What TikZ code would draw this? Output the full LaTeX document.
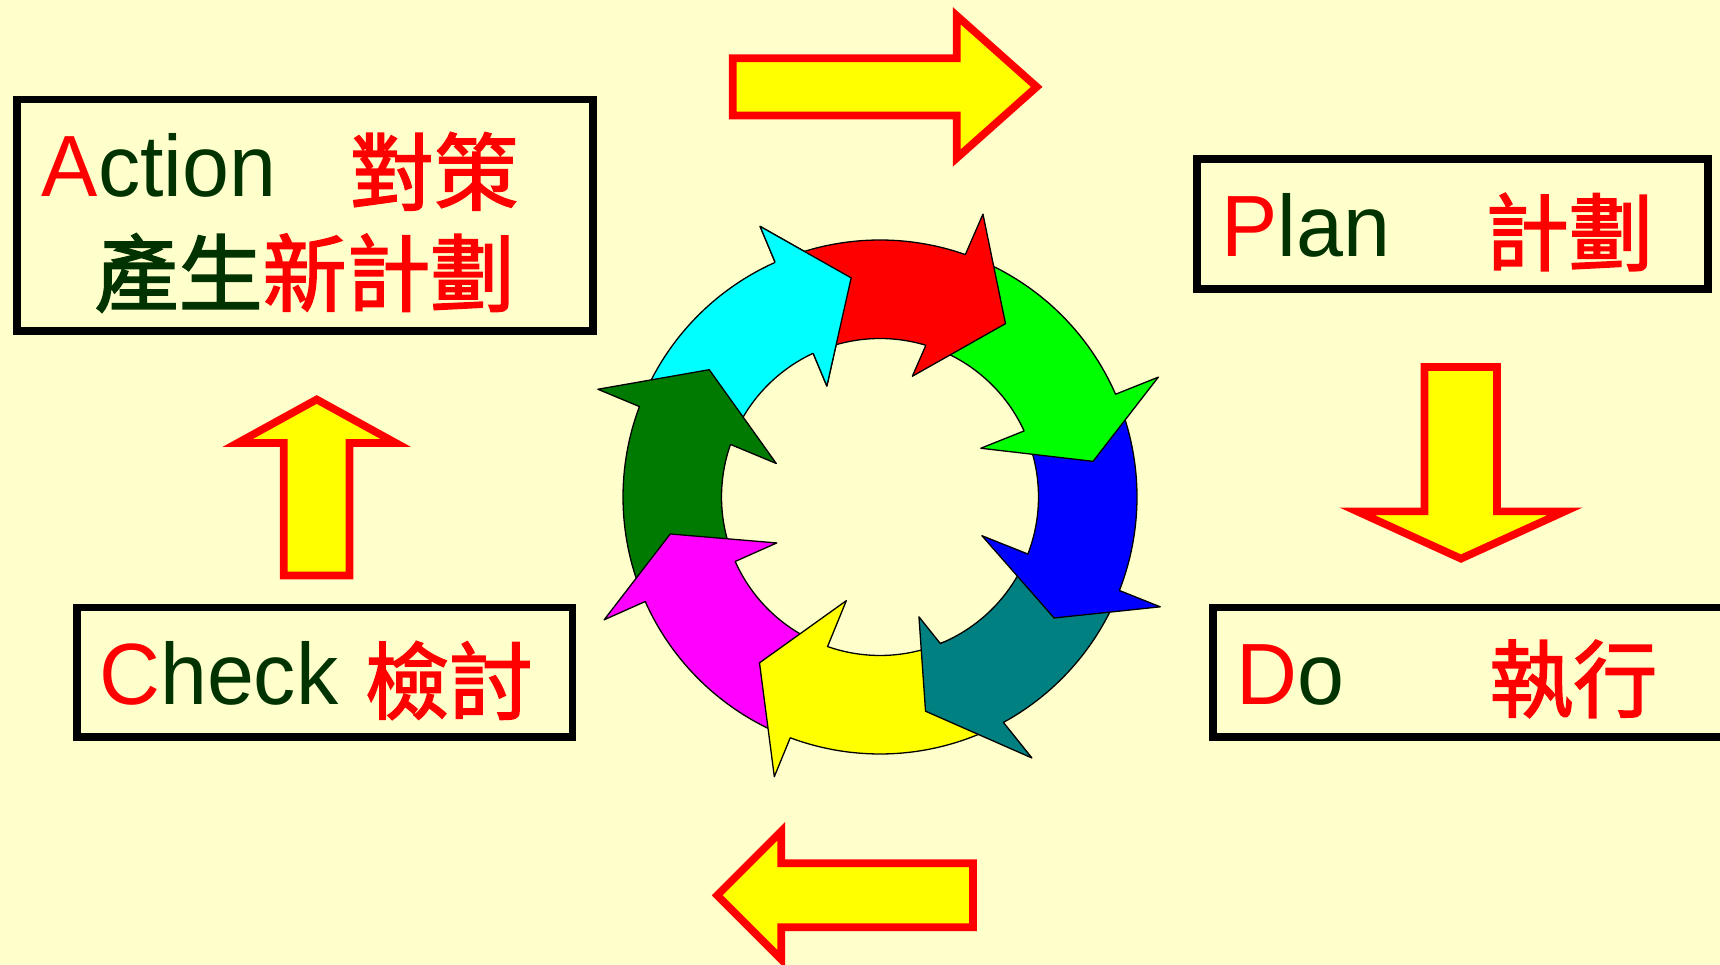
\documentclass[tikz,border=0pt]{standalone}
\usepackage{fontspec}
\setmainfont{Liberation Sans}[FakeStretch=0.97]
\newfontfamily\cjk{Noto Sans CJK TC}[FakeBold=2]
\definecolor{bg}{HTML}{FFFFCC}
\definecolor{ink}{HTML}{003300}
\definecolor{hot}{HTML}{FF0000}
\definecolor{sun}{HTML}{FFFF00}
\definecolor{tealc}{HTML}{008080}
\definecolor{leaf}{HTML}{007A00}
\definecolor{aqua}{HTML}{00FFFF}
\definecolor{pink}{HTML}{FF00FF}
\definecolor{lime}{HTML}{00FF00}
\definecolor{deepblue}{HTML}{0000FF}

% Head geometry of one ring arrow: #1 tip angle, #2/#3 outer barb angle offset/radius,
% #4/#5 inner barb angle offset/radius. Finds where the barb line meets both ring circles.
\newcommand\ringcalc[5]{%
  \pgfmathsetmacro\rgoang{#1+#2}%
  \pgfmathsetmacro\rgiang{#1+#4}%
  \pgfmathsetmacro\rgax{#3*cos(\rgoang)/100}%
  \pgfmathsetmacro\rgay{#3*sin(\rgoang)/100}%
  \pgfmathsetmacro\rgdx{#5*cos(\rgiang)/100-\rgax}%
  \pgfmathsetmacro\rgdy{#5*sin(\rgiang)/100-\rgay}%
  \pgfmathsetmacro\rgqa{\rgdx*\rgdx+\rgdy*\rgdy}%
  \pgfmathsetmacro\rgqb{2*(\rgax*\rgdx+\rgay*\rgdy)}%
  \pgfmathsetmacro\rgqc{\rgax*\rgax+\rgay*\rgay}%
  \pgfmathsetmacro\rgto{(-\rgqb-sqrt(\rgqb*\rgqb-4*\rgqa*(\rgqc-2.57*2.57)))/(2*\rgqa)}%
  \pgfmathsetmacro\rgti{(-\rgqb-sqrt(\rgqb*\rgqb-4*\rgqa*(\rgqc-1.585*1.585)))/(2*\rgqa)}%
  \pgfmathsetmacro\rgjo{atan2(\rgay+\rgto*\rgdy,\rgax+\rgto*\rgdx)}%
  \pgfmathsetmacro\rgji{atan2(\rgay+\rgti*\rgdy,\rgax+\rgti*\rgdx)}%
  \pgfmathsetmacro\rgjo{\rgjo+360*round((\rgoang-\rgjo)/360)}%
  \pgfmathsetmacro\rgji{\rgji+360*round((\rgiang-\rgji)/360)}%
}

\begin{document}
\begin{tikzpicture}[x=1pt,y=1pt,
  boxframe/.style={draw=black, line width=7.7pt, inner sep=0pt, outer sep=0pt},
  word/.style={inner sep=0pt, anchor=base west, font=\fontsize{87}{90}\selectfont},
  han/.style={inner sep=0pt, anchor=center, font=\cjk\fontsize{84}{90}\selectfont},
  block/.style={fill=sun, draw=hot, line width=7.7pt, line join=miter},
  ringpart/.style={draw=black, line width=1.3pt, line join=round}]

% page and background
\fill[bg] (0,0) rectangle (1720,965);
\useasboundingbox (0,0) rectangle (1720,965);

% framed boxes
\node[boxframe, minimum width=576.3, minimum height=231.5] (actbox) at (304.85,749.75) {};
\node[boxframe, minimum width=495.8, minimum height=129.2] (chkbox) at (324.6,292.9) {};
\node[boxframe, minimum width=511, minimum height=130] (plnbox) at (1452.5,741) {};
\node[boxframe, minimum width=527.2, minimum height=129.2] (dobox) at (1476.4,292.9) {};

% box texts
\node[word] (acttxt) at (41.7,768.3) {\textcolor{hot}{A}\textcolor{ink}{ction}};
\node[han, text=hot] (acthan) at (434,793.6) {對策};
\node[han] (acthan2) at (304.5,692) {\textcolor{ink}{產生}\textcolor{hot}{新計劃}};
\node[word] (chktxt) at (99,260) {\textcolor{hot}{C}\textcolor{ink}{heck}};
\node[han, text=hot] (chkhan) at (449,284.5) {檢討};
\node[word] (plntxt) at (1221,708.3) {\textcolor{hot}{P}\textcolor{ink}{lan}};
\node[han, text=hot] (plnhan) at (1569,733) {計劃};
\node[word] (dotxt) at (1236.6,260.7) {\textcolor{hot}{D}\textcolor{ink}{o}};
\node[han, text=hot] (dohan) at (1573.3,286) {執行};

% block arrows
\draw[block] (732.8,906.7) -- (956.7,906.7) -- (956.7,949.3) -- (1036.7,878.1)
  -- (956.7,806.9) -- (956.7,849.5) -- (732.8,849.5) -- cycle;
\draw[block] (1424.5,598) -- (1497,598) -- (1497,453.6) -- (1564.8,453.6)
  -- (1461,406.35) -- (1357.2,453.6) -- (1424.5,453.6) -- cycle;
\draw[block] (973,101.7) -- (781.2,101.7) -- (781.2,133.7) -- (717.2,69.7)
  -- (781.2,5.7) -- (781.2,37.8) -- (973,37.8) -- cycle;
\draw[block] (316.7,565.5) -- (395.8,522) -- (349.5,522) -- (349.5,389.5)
  -- (283.8,389.5) -- (283.8,522) -- (237.6,522) -- cycle;

% ring of eight curved arrows, clockwise; each head hides the tail of the next one
\begin{scope}[shift={(880,468)}]
  \foreach \p/\pr/\oa/\orr/\ia/\ir/\tl/\c in {
      -262.5/221/16.4/296/18.1/123/-204.7/aqua,
      -216.7/213/15.8/302/18.8/109/-158/leaf,
      -170/213/14/302/14/113/-114/pink,
      -126/205/15.3/299/18/109/-66/sun,
      -78/219/18.2/302/6/126/-22.8/tealc,
      -34.8/212/13.4/301/14/109/21.5/deepblue,
      9.5/216/13.8/303/16.3/112/66.1/lime,
      54.1/214/15.9/301/20.9/125/109.5/hot}{
    \ringcalc{\p}{\oa}{\orr}{\ia}{\ir}
    \filldraw[ringpart, fill=\c] (\tl:257) arc[start angle=\tl, end angle=\rgjo, radius=257]
      -- (\rgoang:\orr) -- (\p:\pr) -- (\rgiang:\ir) -- (\rgji:158.5)
      arc[start angle=\rgji, end angle=\tl, radius=158.5] -- cycle;
  }
  % head of the cyan arrow laid over the tail of the red one
  \ringcalc{-262.5}{16.4}{296}{18.1}{123}
  \fill[aqua] (\rgjo:257) -- (\rgoang:296) -- (-262.5:221) -- (\rgiang:123) -- (\rgji:158.5) -- cycle;
  \draw[ringpart] (\rgjo:257) -- (\rgoang:296) -- (-262.5:221) -- (\rgiang:123) -- (\rgji:158.5);
\end{scope}
\end{tikzpicture}
\end{document}
